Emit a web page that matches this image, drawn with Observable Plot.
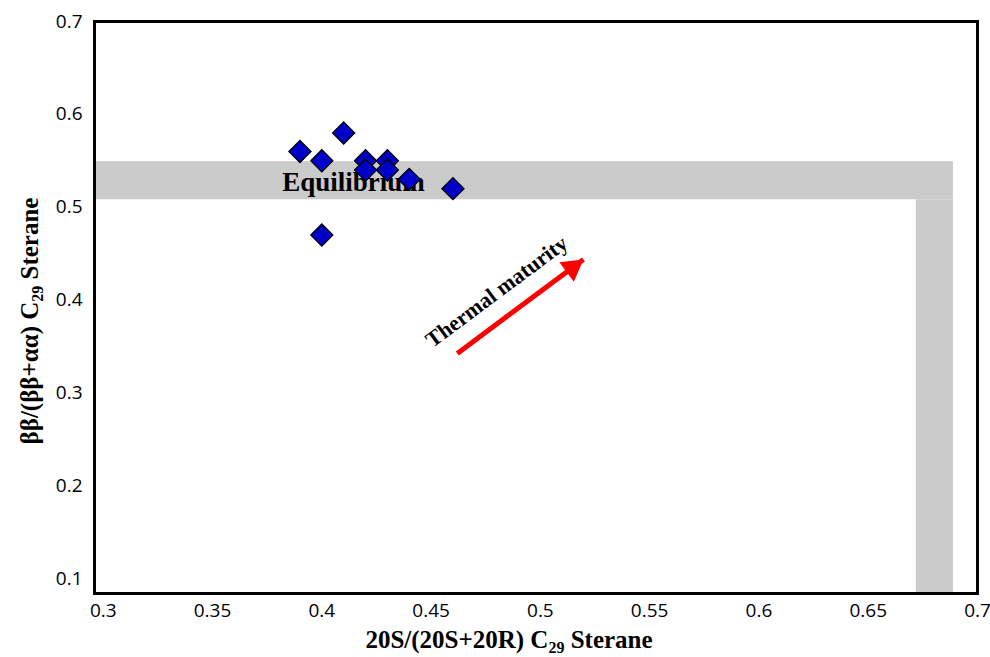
<!DOCTYPE html>
<html><head><meta charset="utf-8">
<script src="https://cdn.jsdelivr.net/npm/d3@7"></script>
<script src="https://cdn.jsdelivr.net/npm/@observablehq/plot@0.6"></script>
<style>body{margin:0;background:#fff} #chart{width:990px;height:657px}</style>
</head><body><div id="chart"></div>
<script>
// Sample values: 20S/(20S+20R) C29 sterane vs ββ/(ββ+αα) C29 sterane
const sterane20S = [0.39, 0.41, 0.40, 0.42, 0.43, 0.42, 0.43, 0.44, 0.46, 0.40];
const steraneBB  = [0.56, 0.58, 0.55, 0.55, 0.55, 0.54, 0.54, 0.53, 0.52, 0.47];
const xTicks = [0.3, 0.35, 0.4, 0.45, 0.5, 0.55, 0.6, 0.65, 0.7];
const yTicks = [0.1, 0.2, 0.3, 0.4, 0.5, 0.6, 0.7];
const xDomain = [0.296, 0.7];
const yDomain = [0.084, 0.7];
// Equilibrium zone (horizontal and vertical grey bands)
const bandX1 = [0.296, 0.672];
const bandX2 = [0.689, 0.689];
const bandY1 = [0.508, 0.084];
const bandY2 = [0.549, 0.508];
// Thermal maturity arrow
const arrowStart = [0.462, 0.3425];
const arrowEnd = [0.5197, 0.4437];
// Annotations
const noteText = ["Equilibrium", "Thermal maturity"];
const noteX = [0.4145, 0.480];
const noteY = [0.5266, 0.409];

const points = sterane20S.map((x, i) => ({x, y: steraneBB[i]}));
const bands = bandX1.map((x1, i) => ({x1, x2: bandX2[i], y1: bandY1[i], y2: bandY2[i]}));
const arrow = [{x1: arrowStart[0], y1: arrowStart[1], x2: arrowEnd[0], y2: arrowEnd[1]}];
const notes = noteText.map((t, i) => ({t, x: noteX[i], y: noteY[i]}));
const serif = "'Liberation Serif', 'Times New Roman', serif";
const fmt = d => String(d);

const chart = Plot.plot({
  width: 990, height: 657,
  marginLeft: 94, marginRight: 13, marginTop: 21, marginBottom: 64,
  style: {fontFamily: "'Open Sans', sans-serif", fontSize: "18px", background: "white", color: "black"},
  x: {domain: xDomain},
  y: {domain: yDomain},
  marks: [
    Plot.rect(bands, {x1: "x1", x2: "x2", y1: "y1", y2: "y2", fill: "#cbcbcb"}),
    Plot.axisX({ticks: xTicks, tickFormat: fmt, tickSize: 0, tickPadding: 10, label: null, fontSize: 19}),
    Plot.axisY({ticks: yTicks, tickFormat: fmt, tickSize: 0, tickPadding: 12, label: null, fontSize: 19}),
    Plot.text([notes[0]], {x: "x", y: "y", text: "t", fontFamily: serif, fontWeight: "bold", fontSize: 27, fill: "black"}),
    Plot.text([notes[1]], {x: "x", y: "y", text: "t", fontFamily: serif, fontWeight: "bold", fontSize: 22, fill: "black", rotate: -36.7}),
    Plot.link(arrow, {x1: "x1", y1: "y1", x2: "x2", y2: "y2", stroke: "red", strokeWidth: 5}),
    Plot.dot(arrow, {x: "x2", y: "y2", symbol: "triangle", r: 9, fill: "red", rotate: 53.3, dx: -11.2, dy: 8.4}),
    Plot.dot(points, {x: "x", y: "y", symbol: "square", r: 8.8, rotate: 45, fill: "#0000c8", stroke: "black", strokeWidth: 1.3}),
    Plot.frame({stroke: "black", strokeWidth: 3})
  ]
});
document.getElementById("chart").appendChild(chart);

const svg = d3.select(chart);
const xt = svg.append("text")
  .attr("x", 509).attr("y", 648).attr("text-anchor", "middle")
  .attr("font-family", serif).attr("font-weight", "bold").attr("font-size", 25).attr("fill", "black");
xt.append("tspan").text("20S/(20S+20R) C");
xt.append("tspan").attr("font-size", 16).attr("dy", 5).text("29");
xt.append("tspan").attr("dy", -5).text(" Sterane");

const yt = svg.append("text")
  .attr("transform", "translate(38,321) rotate(-90)").attr("text-anchor", "middle")
  .attr("font-family", serif).attr("font-weight", "bold").attr("font-size", 25).attr("fill", "black");
yt.append("tspan").text("\u03b2\u03b2/(\u03b2\u03b2+\u03b1\u03b1) C");
yt.append("tspan").attr("font-size", 16).attr("dy", 5).text("29");
yt.append("tspan").attr("dy", -5).text(" Sterane");
</script>
</body></html>
